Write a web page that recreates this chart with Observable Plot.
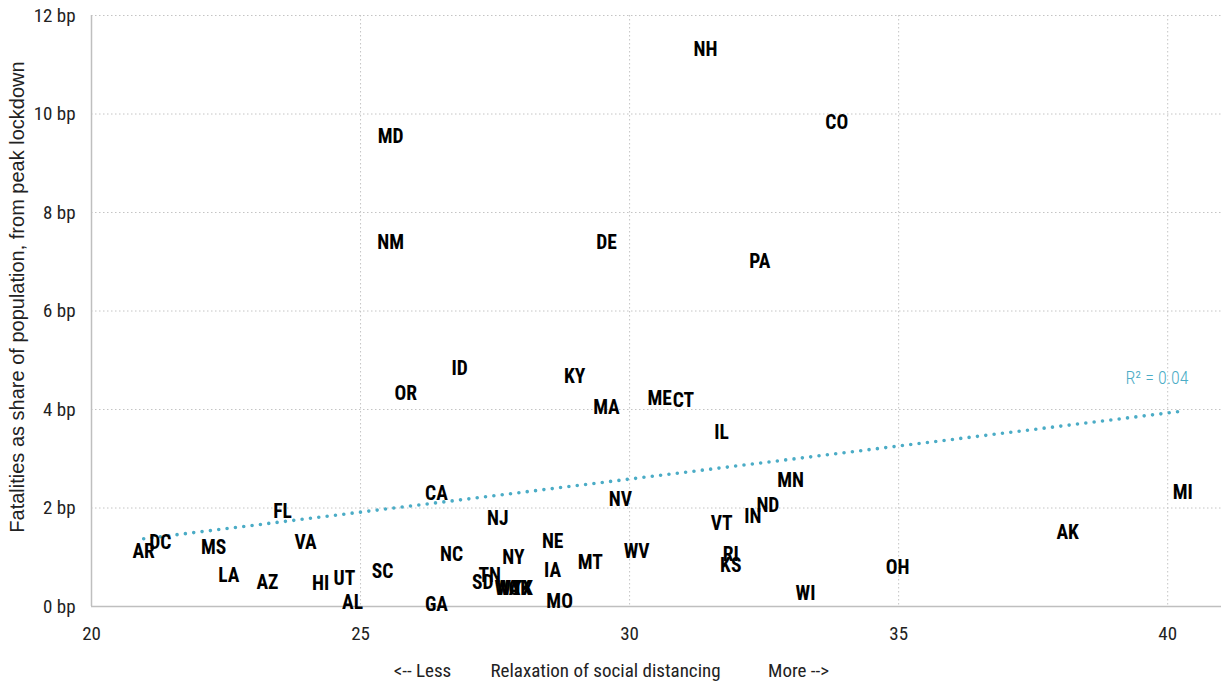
<!DOCTYPE html>
<html>
<head>
<meta charset="utf-8">
<script src="https://cdn.jsdelivr.net/npm/d3@7"></script>
<script src="https://cdn.jsdelivr.net/npm/@observablehq/plot@0.6"></script>
<style>
  html, body { margin: 0; padding: 0; background: #fff; }
  #chart { width: 1225px; height: 685px; }
</style>
</head>
<body>
<div id="chart"></div>
<script>
const states = ["NH","CO","MD","NM","DE","PA","ID","KY","OR","ME","CT","MA","IL","MN","MI","CA","NV","ND","FL","IN","NJ","VT","AK","VA","DC","NE","MS","AR","WV","NC","RI","NY","MT","KS","IA","SC","OH","LA","UT","TN","AZ","SD","HI","WA","WY","OK","TX","WI","AL","GA","MO"];
const relaxation = [31.41,33.85,25.56,25.56,29.57,32.42,26.84,28.98,25.84,30.56,31.00,29.57,31.71,32.99,40.28,26.41,29.83,32.57,23.55,32.29,27.55,31.71,38.14,23.98,21.28,28.57,22.27,20.97,30.13,26.69,31.88,27.84,29.27,31.88,28.57,25.41,34.98,22.55,24.70,27.40,23.27,27.27,24.26,27.73,27.76,27.96,28.01,33.27,24.85,26.41,28.70];
const fatalities = [11.31,9.83,9.54,7.39,7.39,7.00,4.83,4.67,4.32,4.22,4.18,4.04,3.53,2.56,2.31,2.29,2.17,2.05,1.93,1.83,1.79,1.69,1.50,1.30,1.30,1.32,1.20,1.12,1.12,1.06,1.06,0.99,0.89,0.83,0.73,0.71,0.79,0.63,0.57,0.63,0.49,0.49,0.47,0.37,0.36,0.37,0.37,0.26,0.08,0.04,0.10];
const xTicks = [20, 25, 30, 35, 40];
const yTicks = [0, 2, 4, 6, 8, 10, 12];
const xDomain = [20, 41];
const yDomain = [0, 12];
const r2Label = [{x: 39.8, y: 4.64, text: "R² = 0.04"}];
const yTitle = "Fatalities as share of population, from peak lockdown";
const xTitleParts = ["<-- Less", "Relaxation of social distancing", "More -->"];

const data = states.map((s, i) => ({state: s, x: relaxation[i], y: fatalities[i]}));
const teal = "#4bacc6";
const cond = "'Roboto Condensed', 'DejaVu Sans Condensed', sans-serif";

const chart = Plot.plot({
  width: 1225,
  height: 685,
  marginTop: 15,
  marginBottom: 79,
  marginLeft: 91,
  marginRight: 4,
  style: {background: "#fff", color: "#222"},
  x: {domain: xDomain, ticks: xTicks},
  y: {domain: yDomain, ticks: yTicks},
  marks: [
    Plot.gridX(xTicks.filter(d => d !== 20), {stroke: "#c4c4c4", strokeOpacity: 1, strokeDasharray: "1.5 2.5"}),
    Plot.gridY(yTicks.filter(d => d !== 0), {stroke: "#c4c4c4", strokeOpacity: 1, strokeDasharray: "1.5 2.5"}),
    Plot.ruleX([20], {stroke: "#bfbfbf", strokeWidth: 1.5}),
    Plot.ruleY([0], {stroke: "#bfbfbf", strokeWidth: 1.5}),
    Plot.axisX(xTicks, {tickSize: 0, tickPadding: 20, fontSize: 19, fontFamily: cond, fill: "#222", label: null}),
    Plot.axisY(yTicks, {tickSize: 0, tickPadding: 16, fontSize: 19, fontFamily: cond, fill: "#222", label: null, tickFormat: d => `${d} bp`}),
    Plot.linearRegressionY(data, {x: "x", y: "y", ci: 0, stroke: teal, strokeWidth: 3.6, strokeDasharray: "0 8.4", strokeLinecap: "round"}),
    Plot.text(r2Label, {x: "x", y: "y", text: "text", fill: teal, fontSize: 18, fontFamily: cond, fontWeight: 300}),
    Plot.text(data, {x: "x", y: "y", text: "state", fill: "#000", fontSize: 19.5, fontWeight: "bold", fontFamily: cond}),
    Plot.text([yTitle], {text: d => d, frameAnchor: "left", textAnchor: "middle", rotate: -90, dx: -74, dy: -14, fontSize: 20, fontFamily: "'Liberation Sans', Arial, sans-serif", fill: "#222"}),
    Plot.text([xTitleParts[0]], {text: d => d, frameAnchor: "bottom", textAnchor: "middle", dx: -234, dy: 70, fontSize: 19, fontFamily: cond, fill: "#222"}),
    Plot.text([xTitleParts[1]], {text: d => d, frameAnchor: "bottom", textAnchor: "middle", dx: -51, dy: 70, fontSize: 19, fontFamily: cond, fill: "#222"}),
    Plot.text([xTitleParts[2]], {text: d => d, frameAnchor: "bottom", textAnchor: "middle", dx: 142, dy: 70, fontSize: 19, fontFamily: cond, fill: "#222"})
  ]
});
document.getElementById("chart").append(chart);
</script>
</body>
</html>
